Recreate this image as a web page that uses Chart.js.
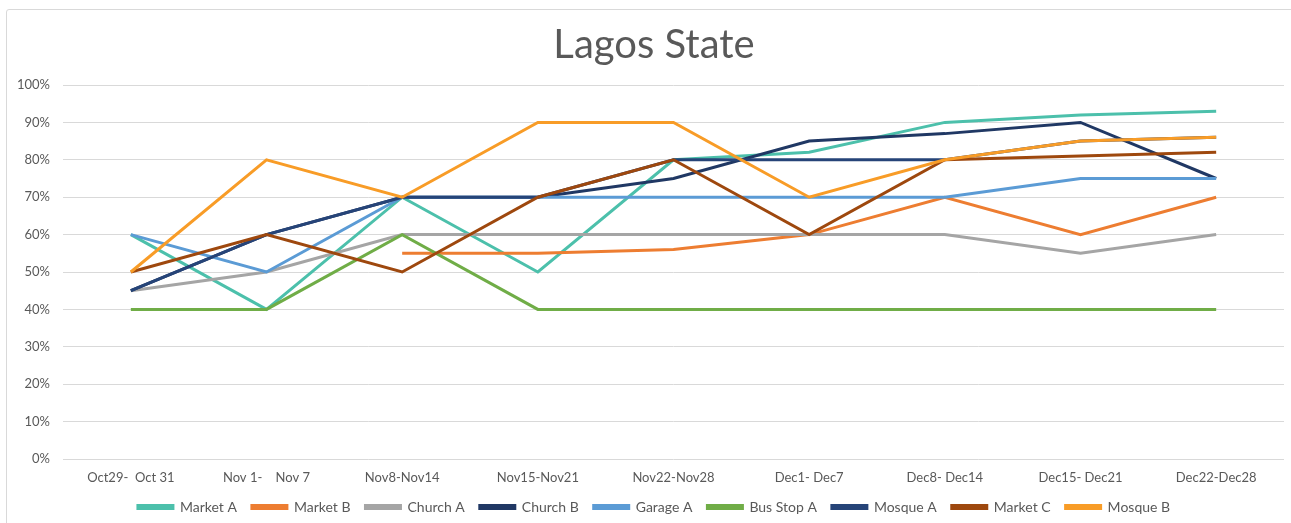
<!DOCTYPE html>
<html>
<head>
<meta charset="utf-8">
<script src="https://cdn.jsdelivr.net/npm/chart.js@4"></script>
<style>
  body { margin: 0; background: #fff; overflow: hidden; }
  #frame { position: absolute; left: 6px; top: 9px; width: 1320px; height: 530px; border: 1px solid #d9d9d9; border-radius: 3px; }
  #lineChart { position: absolute; left: 0; top: 0; }
</style>
</head>
<body>
<div id="frame"></div>
<!-- the original chart runs a little past the right edge of the picture -->
<canvas id="lineChart" width="1309" height="523"></canvas>
<script>
var weeks = ['Oct29-  Oct 31', 'Nov 1-    Nov 7', 'Nov8-Nov14', 'Nov15-Nov21', 'Nov22-Nov28', 'Dec1- Dec7', 'Dec8- Dec14', 'Dec15- Dec21', 'Dec22-Dec28'];

var marketA  = [60, 40, 70, 50, 80, 82, 90, 92, 93];
var marketB  = [null, null, 55, 55, 56, 60, 70, 60, 70];
var churchA  = [45, 50, 60, 60, 60, 60, 60, 55, 60];
var churchB  = [45, 60, 70, 70, 75, 85, 87, 90, 75];
var garageA  = [60, 50, 70, 70, 70, 70, 70, 75, 75];
var busStopA = [40, 40, 60, 40, 40, 40, 40, 40, 40];
var mosqueA  = [45, 60, 70, 70, 80, 80, 80, 85, 86];
var marketC  = [50, 60, 50, 70, 80, 60, 80, 81, 82];
var mosqueB  = [50, 80, 70, 90, 90, 70, 80, 85, 86];

var seriesNames = ['Market A', 'Market B', 'Church A', 'Church B', 'Garage A', 'Bus Stop A', 'Mosque A', 'Market C', 'Mosque B'];
var seriesData = [marketA, marketB, churchA, churchB, garageA, busStopA, mosqueA, marketC, mosqueB];
var seriesColors = ['#4cc0ab', '#ed7d31', '#a5a5a5', '#203864', '#5b9bd5', '#70ad47', '#264478', '#9e480e', '#f89c27'];

var font = "Lato, 'Open Sans', sans-serif";
var grey = '#595959';

var datasets = [];
for (var i = 0; i < seriesNames.length; i++) {
  datasets.push({
    label: seriesNames[i],
    data: seriesData[i],
    borderColor: seriesColors[i],
    backgroundColor: seriesColors[i],
    borderWidth: 3,
    pointRadius: 0,
    tension: 0,
    // later series are painted on top, like in the spreadsheet
    order: seriesNames.length - i
  });
}

// fixed legend height so it sits where the original one does,
// and title + legend centred on the full chart width
var blockTweaks = {
  id: 'blockTweaks',
  afterInit: function (chart) {
    var fit = chart.legend.fit;
    chart.legend.fit = function () {
      fit.call(this);
      this.height = 38;
    };
  },
  afterLayout: function (chart) {
    var shift = 12;
    chart.titleBlock.left += shift;
    chart.titleBlock.right += shift;
    chart.legend.left += shift;
    chart.legend.right += shift;
  }
};

var chart = new Chart(document.getElementById('lineChart').getContext('2d'), {
  type: 'line',
  data: { labels: weeks, datasets: datasets },
  plugins: [blockTweaks],
  options: {
    responsive: false,
    animation: false,
    layout: { padding: { left: 0, right: 25, top: 0, bottom: 0 } },
    plugins: {
      title: {
        display: true,
        text: 'Lagos State',
        color: grey,
        font: { family: font, size: 40, weight: 'normal' },
        padding: { top: 21, bottom: 16 }
      },
      legend: {
        position: 'bottom',
        labels: {
          color: grey,
          font: { family: font, size: 14 },
          boxWidth: 35,
          boxHeight: 3,
          padding: 15,
          sort: function (a, b) { return a.datasetIndex - b.datasetIndex; }
        }
      },
      tooltip: { enabled: false }
    },
    scales: {
      x: {
        offset: true,
        afterFit: function (scale) { scale.height = 26; },
        grid: { display: false, drawTicks: false },
        border: { display: false },
        ticks: { color: grey, font: { family: font, size: 13 }, maxRotation: 0, padding: 11 }
      },
      y: {
        min: 0,
        max: 100,
        afterFit: function (scale) { scale.width = 63; },
        grid: { color: '#d9d9d9', lineWidth: 1, drawTicks: false },
        border: { display: false },
        ticks: {
          stepSize: 10,
          color: grey,
          padding: 13,
          font: { family: font, size: 13 },
          callback: function (v) { return v + '%'; }
        }
      }
    }
  }
});
</script>
</body>
</html>
